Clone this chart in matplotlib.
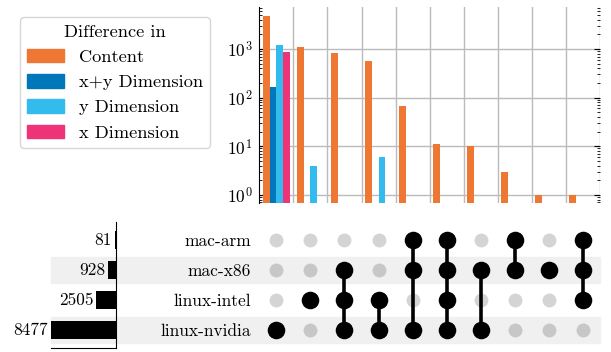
import numpy as np
import matplotlib
matplotlib.use("Agg")
import matplotlib.pyplot as plt
from matplotlib.patches import Rectangle, Patch
from matplotlib.transforms import blended_transform_factory

plt.rcParams["font.family"] = "serif"
plt.rcParams["font.serif"] = ["cmr10"]
plt.rcParams["mathtext.fontset"] = "cm"
plt.rcParams["axes.formatter.use_mathtext"] = True
plt.rcParams["font.size"] = 12.5

# Data
sets = ["mac-arm", "mac-x86", "linux-intel", "linux-nvidia"]
set_totals = [81, 928, 2505, 8477]
# which sets are part of each intersection column
columns = [
    ["linux-nvidia"],
    ["linux-intel"],
    ["mac-x86", "linux-intel", "linux-nvidia"],
    ["linux-intel", "linux-nvidia"],
    ["mac-arm", "mac-x86", "linux-nvidia"],
    ["mac-arm", "mac-x86", "linux-intel", "linux-nvidia"],
    ["mac-x86", "linux-nvidia"],
    ["mac-arm", "mac-x86"],
    ["mac-x86"],
    ["mac-arm", "mac-x86", "linux-intel"],
]
diff_labels = ["Content", "x+y Dimension", "y Dimension", "x Dimension"]
content = [4750, 1090, 835, 560, 66, 11, 10, 3, 1, 1]
xy_dim = [167, 0, 0, 0, 0, 0, 0, 0, 0, 0]
y_dim = [1200, 4, 0, 6, 0, 0, 0, 0, 0, 0]
x_dim = [872, 0, 0, 0, 0, 0, 0, 0, 0, 0]
colors = ["#EE7733", "#0077BB", "#33BBEE", "#EE3377"]

W, H = 611, 352


def rect(x0, y0, x1, y1):
    # pixel box -> figure fraction
    return [x0 / W, 1 - y1 / H, (x1 - x0) / W, (y1 - y0) / H]


fig = plt.figure(figsize=(W / 100, H / 100), dpi=100)
ax_bar = fig.add_axes(rect(259.3, 6.7, 600, 203))
ax_mat = fig.add_axes(rect(259.3, 222, 600, 348))
ax_tot = fig.add_axes(rect(51, 222, 115.5, 348))

# grouped bars
n = len(columns)
xpos = np.arange(n)
width = 0.2
for k, (vals, c) in enumerate(zip([content, xy_dim, y_dim, x_dim], colors)):
    vals = np.array(vals, dtype=float)
    m = vals > 0
    ax_bar.bar(xpos[m] - 0.3 + k * width, vals[m], width, color=c, zorder=3)

ax_bar.set_yscale("log")
ax_bar.set_ylim(0.68, 7400)
ax_bar.set_xlim(-0.5, n - 0.5)
ax_bar.set_xticks(np.arange(0.5, n, 1))
ax_bar.set_xticklabels([])
ax_bar.tick_params(axis="x", length=0)
ax_bar.tick_params(axis="y", which="both", direction="in", left=True, right=True)
ax_bar.tick_params(axis="y", which="major", length=4, pad=5)
ax_bar.tick_params(axis="y", which="minor", length=2)
ax_bar.grid(True, color="#bbbbbb", linewidth=1, zorder=0)
ax_bar.grid(False, which="minor")
for s in ["top", "right", "bottom"]:
    ax_bar.spines[s].set_visible(False)

# shaded rows across totals, labels and matrix
ytf = blended_transform_factory(fig.transFigure, ax_mat.transData)
for r in range(len(sets)):
    if r % 2 == 1:
        fig.patches.append(
            Rectangle((51 / W, r - 0.42), (600 - 51) / W, 0.84, transform=ytf,
                      color="#f0f0f0", zorder=-1)
        )

# matrix
ax_mat.patch.set_visible(False)
ax_mat.set_xlim(-0.5, n - 0.5)
ax_mat.set_ylim(3.6, -0.6)
for i, col in enumerate(columns):
    rows = [sets.index(s) for s in col]
    ax_mat.scatter([i] * len(sets), range(len(sets)), s=100, color="black",
                   alpha=0.17, linewidths=0, zorder=2)
    ax_mat.plot([i, i], [min(rows), max(rows)], color="black", linewidth=2.6, zorder=3)
    ax_mat.scatter([i] * len(rows), rows, s=160, color="black", linewidths=0, zorder=4)
ax_mat.set_xticks([])
ax_mat.set_yticks(range(len(sets)))
ax_mat.set_yticklabels(sets)
ax_mat.tick_params(axis="y", length=0, pad=6)
for s in ax_mat.spines.values():
    s.set_visible(False)

# set totals
ax_tot.patch.set_visible(False)
ax_tot.barh(range(len(sets)), set_totals, height=0.6, color="black")
ax_tot.set_ylim(3.6, -0.6)
ax_tot.set_xlim(max(set_totals), 0)
for r, v in enumerate(set_totals):
    ax_tot.annotate(str(v), (v, r), xytext=(-2, 0), textcoords="offset points",
                    ha="right", va="center")
ax_tot.set_xticks([])
ax_tot.set_yticks([])
ax_tot.spines["left"].set_visible(False)
ax_tot.spines["top"].set_visible(False)

handles = [Patch(color=c) for c in colors]
fig.legend(handles, diff_labels, title="Difference in", loc="upper left",
           bbox_to_anchor=(20 / W, 1 - 17 / H), handlelength=2.0,
           handleheight=0.75, labelspacing=0.5, borderaxespad=0,
           fontsize=13.2, title_fontsize=13.2)

fig.savefig("out.png", dpi=100)
